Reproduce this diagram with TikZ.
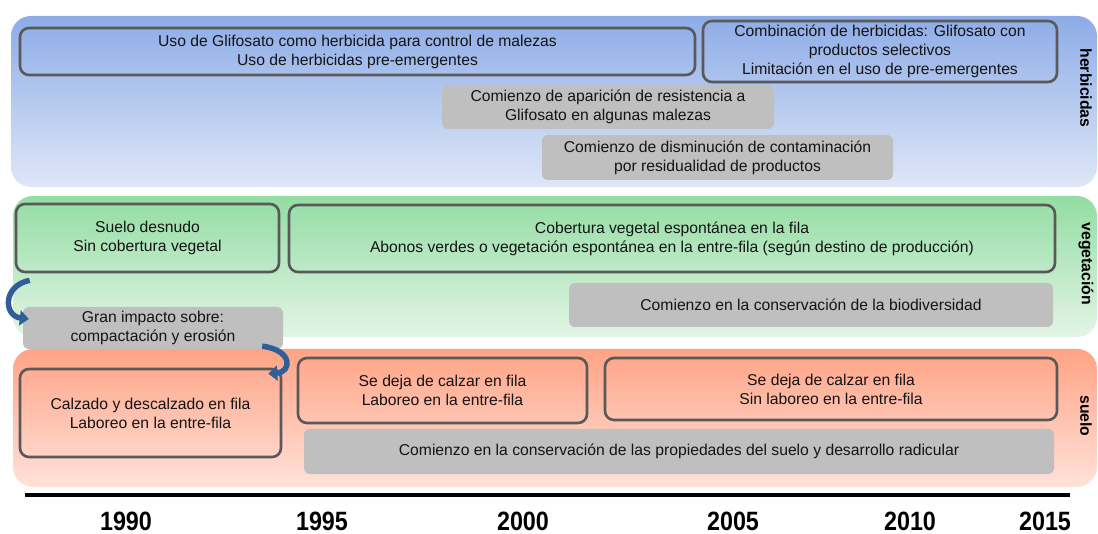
\documentclass[tikz,border=0pt]{standalone}
\usepackage{fontspec}
\setmainfont{Liberation Sans}
\newfontfamily\yearfont{Liberation Sans}[FakeStretch=0.88]
\usetikzlibrary{arrows.meta}
\definecolor{boxgray}{HTML}{595959}
\definecolor{graybox}{HTML}{BFBFBF}
\definecolor{arrowblue}{HTML}{2F5E98}
\definecolor{bluetop}{HTML}{8DACE7}
\definecolor{bluebot}{HTML}{DFE7F7}
\definecolor{greentop}{HTML}{93DDA3}
\definecolor{greenbot}{HTML}{E3F5E6}
\definecolor{redtop}{HTML}{FFA385}
\definecolor{redbot}{HTML}{FFE2DA}
\tikzset{
  txt/.style={font=\fontsize{15.7}{19}\selectfont, align=center, inner sep=0pt, text=black!92},
  boxo/.style={txt, draw=boxgray, line width=2.6pt, rounded corners=9pt},
  grayb/.style={txt, fill=graybox, rounded corners=6pt},
  lab/.style={font=\bfseries\fontsize{15.8}{19}\selectfont, inner sep=0pt, rotate=-90},
  yr/.style={font=\yearfont\bfseries\fontsize{26.5}{26.5}\selectfont, inner sep=0pt},
  band/.style={rounded corners=20pt},
  curarrow/.style={draw=arrowblue, line width=5.5pt, -{Triangle[length=9pt,width=15pt]}}
}
\begin{document}
\begin{tikzpicture}[x=1pt,y=-1pt]
\useasboundingbox (0,0) rectangle (1098,534);
% bands
\shade[band, top color=bluetop, bottom color=bluebot] (11,16) rectangle (1097,187);
\shade[band, top color=greentop, bottom color=greenbot] (13,196) rectangle (1097,337);
\shade[band, top color=redtop, bottom color=redbot] (13,349) rectangle (1097,487);
% herbicidas
\node[boxo, minimum width=675pt, minimum height=47pt] (b1) at (357.5,51.5)
  {Uso de Glifosato como herbicida para control de malezas\\Uso de herbicidas pre-emergentes};
\node[boxo, minimum width=354pt, minimum height=61pt] (b2) at (880,51.5)
  {Combinación de herbicidas: Glifosato con\\productos selectivos\\Limitación en el uso de pre-emergentes};
\node[grayb, minimum width=332pt, minimum height=44pt] (g1) at (608,107)
  {Comienzo de aparición de resistencia a\\Glifosato en algunas malezas};
\node[grayb, minimum width=351pt, minimum height=45pt] (g2) at (717.5,157.5)
  {Comienzo de disminución de contaminación\\por residualidad de productos};
% vegetacion
\node[boxo, minimum width=263pt, minimum height=68pt] (v1) at (147.5,238)
  {Suelo desnudo\\Sin cobertura vegetal};
\node[boxo, minimum width=766pt, minimum height=67pt] (v2) at (672,238.5)
  {Cobertura vegetal espontánea en la fila\\Abonos verdes o vegetación espontánea en la entre-fila (según destino de producción)};
\node[grayb, minimum width=484pt, minimum height=44pt] (vg) at (811,305)
  {Comienzo en la conservación de la biodiversidad};
\node[grayb, minimum width=260pt, minimum height=42pt] (gi) at (153,328)
  {Gran impacto sobre:\\compactación y erosión};
% suelo
\node[boxo, minimum width=261pt, minimum height=88pt] (s1) at (150.5,413)
  {Calzado y descalzado en fila\\Laboreo en la entre-fila};
\node[boxo, minimum width=289pt, minimum height=65pt] (s2) at (442.5,390.5)
  {Se deja de calzar en fila\\Laboreo en la entre-fila};
\node[boxo, minimum width=452pt, minimum height=62pt] (s3) at (831,389)
  {Se deja de calzar en fila\\Sin laboreo en la entre-fila};
\node[grayb, minimum width=750pt, minimum height=45pt] (sg) at (679,451.5)
  {Comienzo en la conservación de las propiedades del suelo y desarrollo radicular};
% curved arrows
\draw[curarrow] ([shift={(15,7)}]v1.south west) .. controls (2,286) and (4,316) .. ([shift={(6,-9)}]gi.west);
\draw[curarrow] ([shift={(-21,-3)}]gi.south east) .. controls (293,350) and (292,372) .. ([shift={(-14,6)}]s1.north east);
% side labels
\node[lab] (lh) at (1086,88) {herbicidas};
\node[lab] (lv) at (1086,264) {vegetación};
\node[lab] (ls) at (1086,416) {suelo};
% timeline
\coordinate (tl1) at (25,495);
\coordinate (tl2) at (1070,495);
\draw[line width=4.5pt] (tl1) -- (tl2);
\node[yr] (y1990) at (126,521) {1990};
\node[yr] (y1995) at (322,521) {1995};
\node[yr] (y2000) at (523,521) {2000};
\node[yr] (y2005) at (733,521) {2005};
\node[yr] (y2010) at (910,521) {2010};
\node[yr] (y2015) at (1045,521) {2015};
\end{tikzpicture}
\end{document}
